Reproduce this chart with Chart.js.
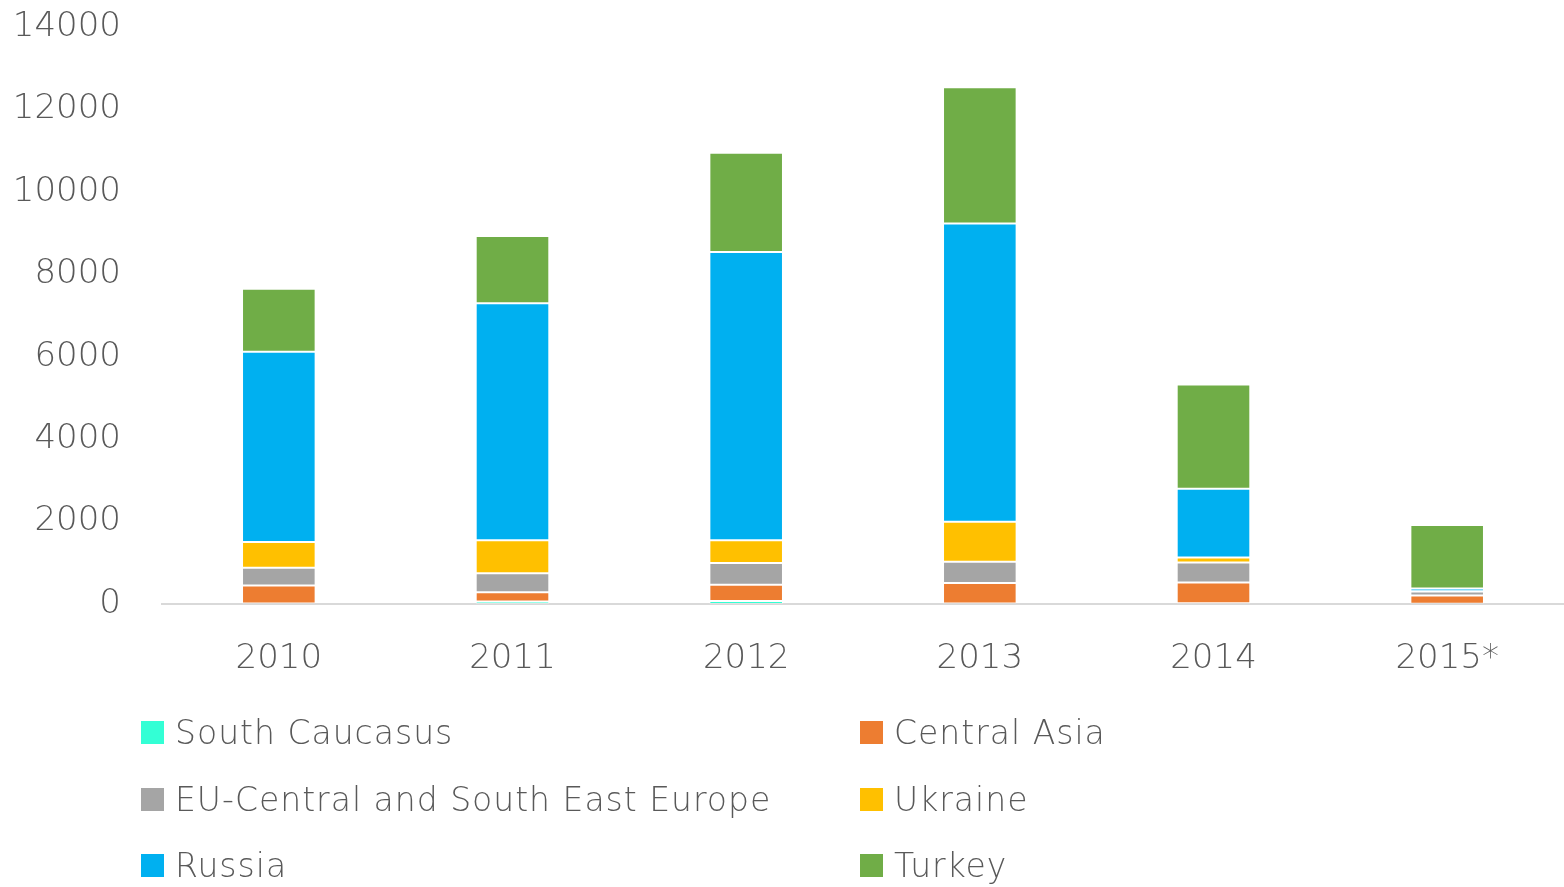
<!DOCTYPE html>
<html>
<head>
<meta charset="utf-8">
<script src="https://cdn.jsdelivr.net/npm/chart.js@4/dist/chart.umd.min.js"></script>
<style>
  html, body { margin: 0; padding: 0; background: #fff; }
  #wrap { position: relative; width: 1564px; height: 887px; overflow: hidden; }
  #c { position: absolute; left: 0; top: 0; }
  .leg { position: absolute; display: flex; align-items: center; font-family: 'DejaVu Sans', sans-serif; font-weight: 200; font-size: 33px; letter-spacing: 1px; color: #595959; white-space: nowrap; height: 40px; }
  .leg span.box { display: inline-block; width: 23px; height: 23px; margin-right: 11px; }
</style>
</head>
<body>
<div id="wrap">
  <canvas id="c" width="1564" height="887"></canvas>
</div>
<script>
const categories = ['2010', '2011', '2012', '2013', '2014', '2015*'];
const seriesNames = ['South Caucasus', 'Central Asia', 'EU-Central and South East Europe', 'Ukraine', 'Russia', 'Turkey'];
const southCaucasus = [10, 60, 70, 10, 20, 5];
const centralAsia = [440, 226, 398, 498, 500, 200];
const euCentralSEE = [428, 461, 525, 518, 486, 97];
const ukraine = [624, 802, 551, 972, 122, 10];
const russia = [4617, 5751, 6998, 7234, 1669, 63];
const turkey = [1530, 1628, 2405, 3305, 2527, 1540];
const yTicks = [0, 2000, 4000, 6000, 8000, 10000, 12000, 14000];
const colors = ['#33FFD5', '#ED7D31', '#A5A5A5', '#FFC000', '#00B0F0', '#70AD47'];

const seriesValues = [southCaucasus, centralAsia, euCentralSEE, ukraine, russia, turkey];
const FONT = "'DejaVu Sans', sans-serif";

const datasets = seriesNames.map((name, i) => ({
  label: name,
  data: seriesValues[i],
  backgroundColor: colors[i],
  borderColor: 'rgba(255,255,255,0.25)',
  borderWidth: 1,
  borderSkipped: false,
  barPercentage: 0.315,
  categoryPercentage: 1.0
}));

new Chart(document.getElementById('c'), {
  type: 'bar',
  data: { labels: categories, datasets },
  options: {
    responsive: false,
    animation: false,
    layout: { padding: { top: 27, right: 0, bottom: 200, left: 0 } },
    plugins: { legend: { display: false }, tooltip: { enabled: false } },
    scales: {
      x: {
        stacked: true,
        grid: { display: false, drawTicks: false },
        border: { display: true, color: '#D9D9D9', width: 2 },
        ticks: { color: '#595959', font: { family: FONT, size: 34, weight: 200 }, padding: 35 },
        afterFit: s => { s.height = 83; s.paddingLeft = 0; s.paddingRight = 0; }
      },
      y: {
        stacked: true,
        min: 0, max: 14000,
        afterBuildTicks: s => { s.ticks = yTicks.map(v => ({ value: v })); },
        grid: { display: false, drawTicks: false },
        border: { display: false },
        ticks: {
          color: '#595959', font: { family: FONT, size: 34, weight: 200 }, padding: 41,
          callback: v => String(v)
        },
        afterFit: s => { s.width = 162; s.paddingTop = 0; s.paddingBottom = 0; }
      }
    }
  }
});

// legend (two columns, three rows)
const wrap = document.getElementById('wrap');
const colX = [141, 860];
const rowY = [732, 799, 865];
seriesNames.forEach((name, i) => {
  const d = document.createElement('div');
  d.className = 'leg';
  d.style.left = colX[i % 2] + 'px';
  d.style.top = (rowY[Math.floor(i / 2)] - 20) + 'px';
  const b = document.createElement('span');
  b.className = 'box';
  b.style.background = colors[i];
  d.appendChild(b);
  d.appendChild(document.createTextNode(name));
  wrap.appendChild(d);
});
</script>
</body>
</html>
